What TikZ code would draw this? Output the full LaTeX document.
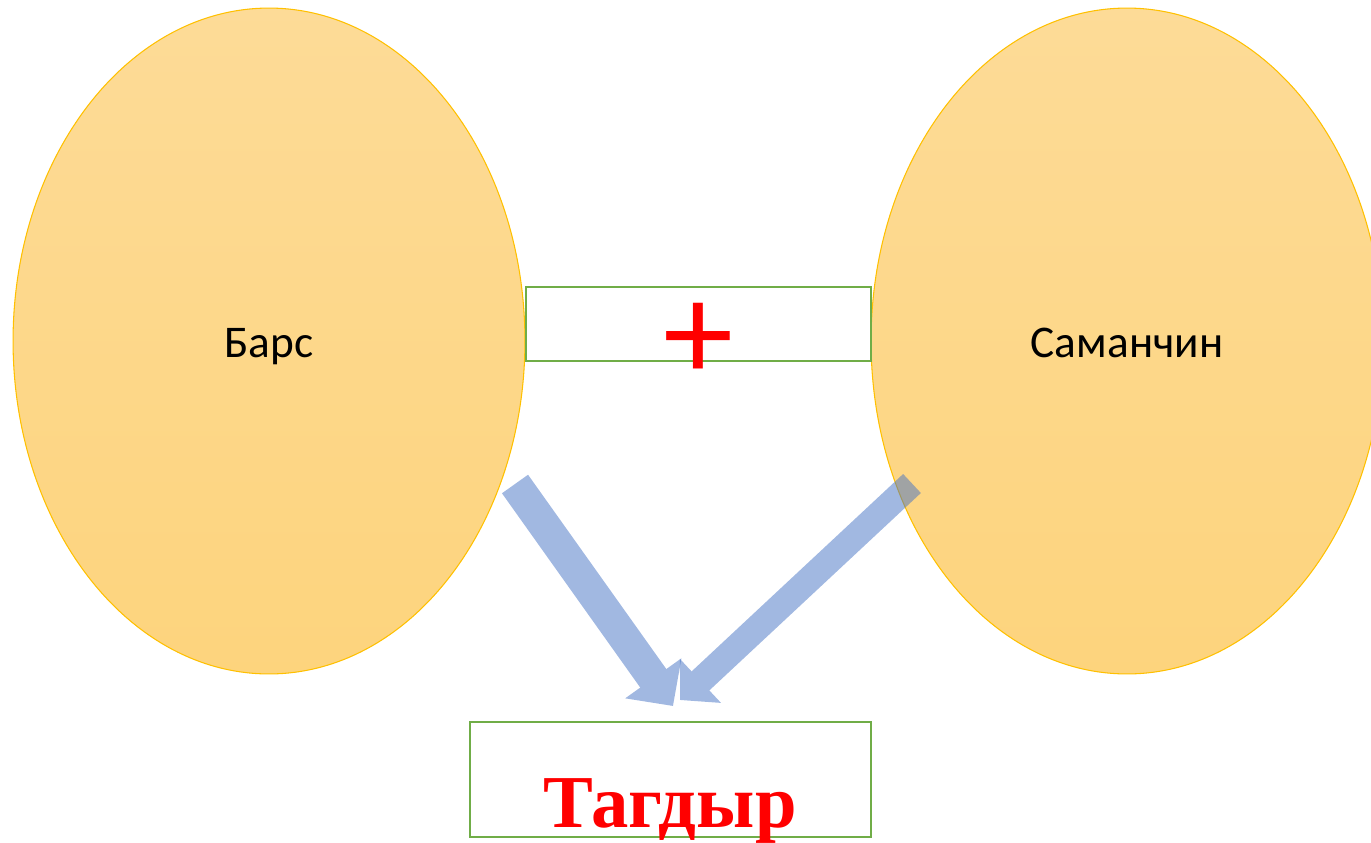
\documentclass[tikz,border=0pt]{standalone}
\usepackage{fontspec}
\setmainfont{Carlito}
\newfontfamily\fateserif{Liberation Serif}
\usetikzlibrary{shapes.geometric,arrows.meta}
\definecolor{pale}{HTML}{FDDB97}
\definecolor{deep}{HTML}{FDD47D}
\definecolor{rim}{HTML}{FFC000}
\definecolor{boxgreen}{HTML}{70AD47}
\definecolor{flow}{HTML}{4472C4}
\tikzset{
  person/.style={ellipse,draw=rim,line width=0.6pt,top color=pale,bottom color=deep,
    minimum width=10.24cm,minimum height=13.32cm,inner sep=0pt},
  frame/.style={draw=boxgreen,line width=1.2pt,fill=white,inner sep=0pt},
  flowarrow/.style={flow,line join=miter}
}
\begin{document}
\begin{tikzpicture}[x=0.02cm,y=-0.02cm]
	\useasboundingbox (0,0) rectangle (1371,842);
	\node[person] (bars) at (269,341) {};
	\node[person] (saman) at (1127,341) {};
	\node[font=\fontsize{25.8}{30}\selectfont,anchor=base] (barsname) at (269,357) {Барс};
	\node[font=\fontsize{25.8}{30}\selectfont,anchor=base] (samanname) at (1127,357) {Саманчин};
	\node[frame,minimum width=6.9cm,minimum height=1.48cm] (plusbox) at (698.5,324) {};
	\node[red,font=\fontsize{80}{90}\selectfont] (plus) at (698,342) {+};
	\node[frame,minimum width=8.02cm,minimum height=2.3cm] (fate) at (670.5,779.5) {};
	\node[red,anchor=base,font=\fateserif\bfseries\fontsize{42.5}{48}\selectfont] (fatename) at (670,827) {Тагдыр};
	\coordinate (barsout) at (515,484);
	\coordinate (samanout) at (912,483.5);
	\coordinate (fatein1) at (673,706);
	\coordinate (fatein2) at (680,700);
	\begin{scope}[transparency group,opacity=0.5]
		\draw[flowarrow,line width=0.64cm,-{Triangle[length=0.68cm,width=1.34cm]}] (barsout) -- (fatein1);
	\end{scope}
	\begin{scope}[transparency group,opacity=0.5]
		\draw[flowarrow,line width=0.52cm,-{Triangle[length=0.56cm,width=1.17cm]}] (samanout) -- (fatein2);
	\end{scope}
\end{tikzpicture}
\end{document}
